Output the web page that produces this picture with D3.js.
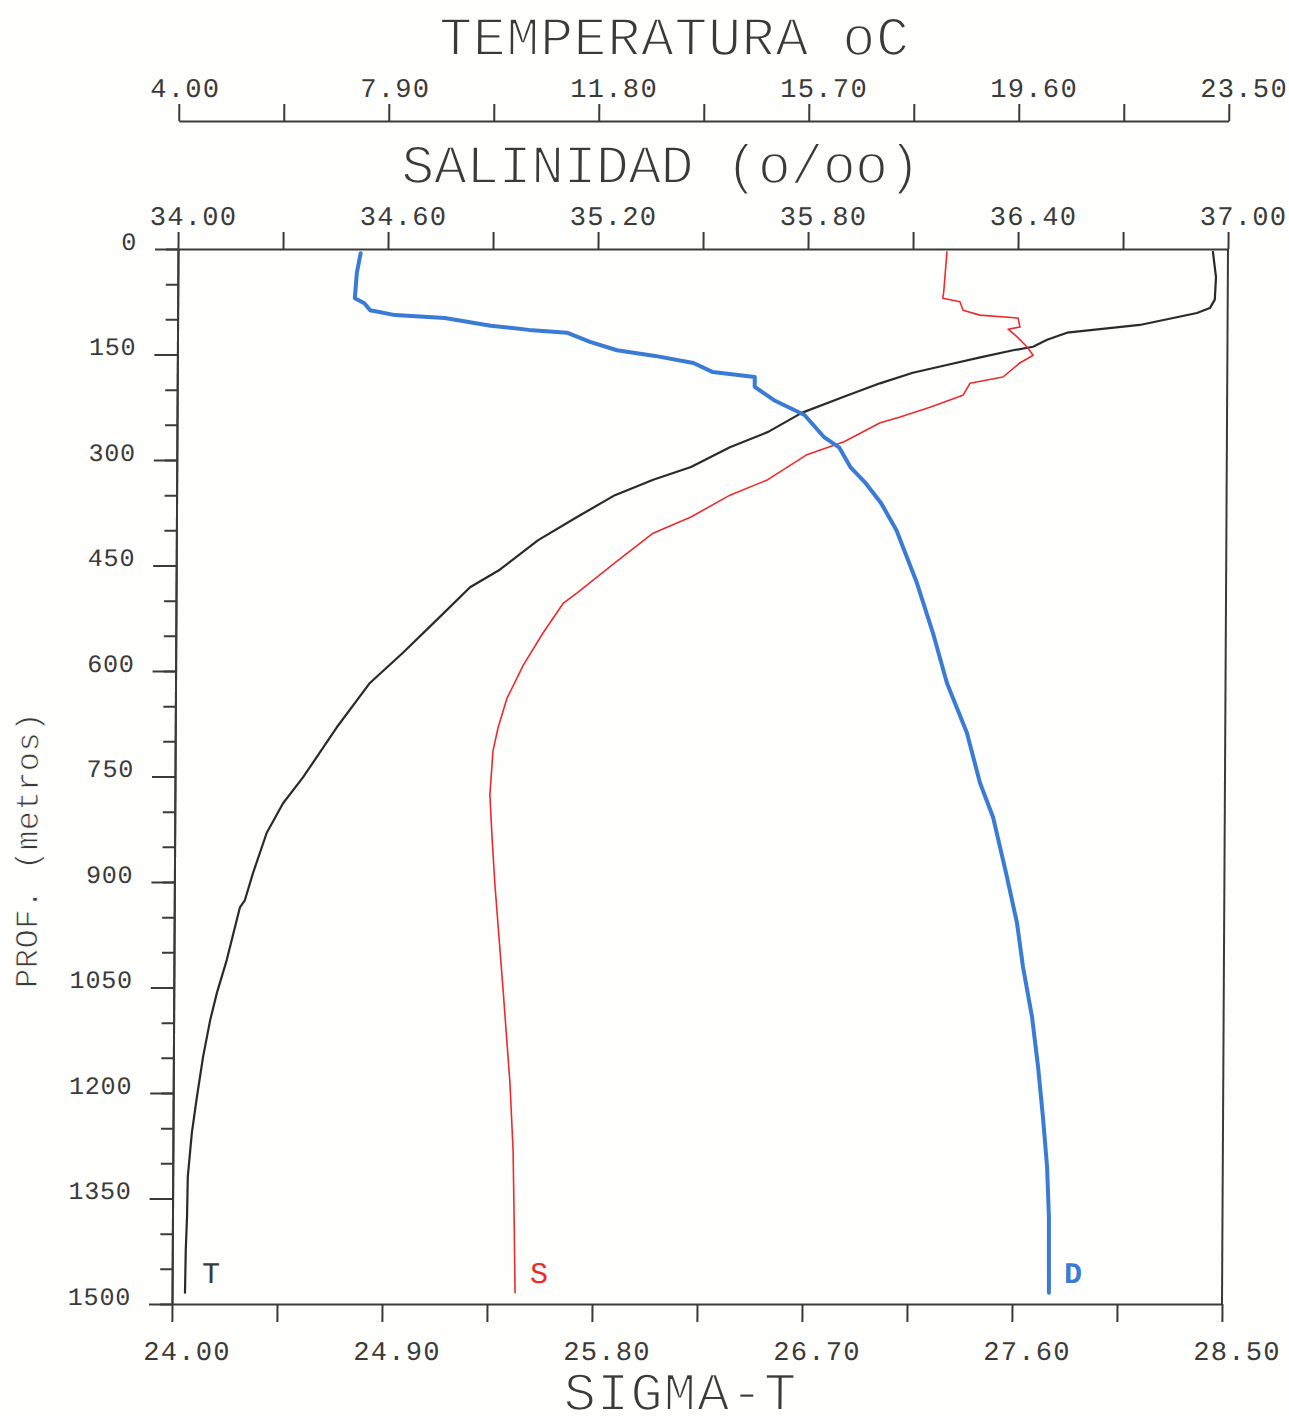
<!DOCTYPE html>
<html lang="es">
  <head>
    <meta charset="UTF-8" />
    <script src="https://d3js.org/d3.v7.min.js"></script>
    <title>Perfil T S Sigma-T</title>
    <style>
      body { margin: 0; background: #fefefc; }
    </style>
  </head>
  <body>
    <svg width="1289" height="1416"></svg>
    <script>
      var depthT = [4, 40, 72, 84, 91, 108, 114, 119, 129, 139, 144, 154, 165, 176, 191, 210, 233, 260, 282, 310,
        328, 350, 381, 414, 456, 481, 527, 574, 617, 680, 751, 788, 830, 887, 926, 936, 1011, 1058, 1096, 1149,
        1206, 1257, 1319, 1376, 1423, 1484];
      var tempT = [23.22, 23.28, 23.26, 23.17, 22.93, 21.87, 21.13, 20.52, 20.15, 19.89, 19.52, 18.91, 18.29, 17.66, 17.05, 16.38, 15.60, 14.98, 14.27, 13.55,
        12.85, 12.14, 11.44, 10.72, 10.01, 9.46, 8.85, 8.22, 7.61, 7.00, 6.38, 6.01, 5.71, 5.46, 5.31, 5.22, 4.98, 4.80, 4.68, 4.55,
        4.44, 4.35, 4.28, 4.27, 4.25, 4.24];

      var depthS = [4, 58, 70, 75, 87, 94, 98, 111, 114, 125, 139, 151, 162, 182, 191, 208, 225, 239, 247, 274,
        293, 328, 350, 381, 404, 446, 489, 504, 546, 592, 639, 681, 714, 776, 838, 905, 1054, 1186, 1281, 1376, 1484];
      var salS = [36.197, 36.189, 36.186, 36.235, 36.244, 36.292, 36.401, 36.407, 36.373, 36.399, 36.427, 36.445, 36.407, 36.359, 36.265, 36.245, 36.151, 36.066, 36.009, 35.906,
        35.798, 35.689, 35.581, 35.470, 35.362, 35.254, 35.146, 35.106, 35.049, 34.993, 34.947, 34.922, 34.908, 34.900, 34.907, 34.916, 34.941, 34.962, 34.972, 34.976, 34.980];

      var depthD = [6, 34, 70, 77, 87, 94, 98, 109, 115, 119, 132, 144, 152, 162, 175, 182, 196, 215, 236, 267,
        282, 310, 333, 361, 400, 475, 546, 617, 688, 759, 808, 869, 893, 958, 1021, 1092, 1163, 1234, 1305, 1376, 1484];
      var sigD = [24.783, 24.767, 24.759, 24.800, 24.825, 24.932, 25.145, 25.342, 25.506, 25.669, 25.768, 25.884, 26.047, 26.212, 26.295, 26.475, 26.475, 26.558, 26.689, 26.772,
        26.838, 26.887, 26.953, 27.019, 27.086, 27.175, 27.245, 27.306, 27.393, 27.450, 27.507, 27.551, 27.568, 27.612, 27.639, 27.679, 27.706, 27.728, 27.747, 27.756, 27.758];

      // marcas de los ejes
      var tempTicks = [4.0, 5.95, 7.9, 9.85, 11.8, 13.75, 15.7, 17.65, 19.6, 21.55, 23.5];
      var salTicks = [34.0, 34.3, 34.6, 34.9, 35.2, 35.5, 35.8, 36.1, 36.4, 36.7, 37.0];
      var sigTicks = [24.0, 24.45, 24.9, 25.35, 25.8, 26.25, 26.7, 27.15, 27.6, 28.05, 28.5];
      var depthLabels = [0, 150, 300, 450, 600, 750, 900, 1050, 1200, 1350, 1500];

      var ink = "#3a3a3a",
        paper = "#fefefc",
        red = "#ee2a2e",
        blue = "#3a7bd5",
        font = "Liberation Mono";

      var svg = d3.select("svg"),
        plotL = 178,
        plotR = 1228,
        plotT = 249,
        plotB = 1304;

      // el original esta ligeramente inclinado
      var g = svg
        .append("g")
        .attr("transform", "translate(0," + plotT + ") skewX(-0.326) translate(0," + -plotT + ")");

      var sigX = d3.scaleLinear().domain([24, 28.5]).range([plotL, plotR]);
      var salX = d3.scaleLinear().domain([34, 37]).range([plotL, plotR]);
      var tempX = d3.scaleLinear().domain([4, 23.5]).range([plotL, plotR]);
      var y = d3.scaleLinear().domain([0, 1500]).range([plotT, plotB]);

      var fmt = d3.format(".2f");
      function everyOther(d, i) {
        return i % 2 ? "" : fmt(d);
      }

      function styleAxis(sel) {
        sel.attr("font-family", font).attr("font-size", 27).attr("fill", ink);
        sel.select(".domain").attr("stroke", ink).attr("stroke-width", 2);
        sel.selectAll(".tick line").attr("stroke", ink).attr("stroke-width", 2);
        sel.selectAll(".tick text").attr("fill", ink).attr("letter-spacing", 1.3);
      }

      // eje de temperatura
      var ta = g
        .append("g")
        .attr("transform", "translate(0,121)")
        .call(d3.axisTop(tempX).tickValues(tempTicks).tickSize(17).tickSizeOuter(0).tickPadding(7).tickFormat(everyOther));
      styleAxis(ta);
      ta.selectAll(".tick text").attr("text-anchor", "start").attr("x", -29);

      // eje de salinidad
      var sa = g
        .append("g")
        .attr("transform", "translate(0," + plotT + ")")
        .call(d3.axisTop(salX).tickValues(salTicks).tickSize(17).tickSizeOuter(0).tickPadding(7).tickFormat(everyOther));
      styleAxis(sa);
      sa.selectAll(".tick text").attr("text-anchor", "start").attr("x", -29);

      // eje sigma-t
      var ba = g
        .append("g")
        .attr("transform", "translate(0," + plotB + ")")
        .call(d3.axisBottom(sigX).tickValues(sigTicks).tickSize(18).tickSizeOuter(0).tickFormat(everyOther));
      styleAxis(ba);
      ba.selectAll(".tick text").attr("text-anchor", "start").attr("x", -29).attr("dy", "0").attr("y", 56);

      // eje de profundidad
      var la = g
        .append("g")
        .attr("transform", "translate(" + plotL + ",0)")
        .call(d3.axisLeft(y).tickValues(d3.range(0, 1501, 50)).tickSize(12).tickSizeOuter(0).tickFormat(""));
      styleAxis(la);
      var lb = g
        .append("g")
        .attr("transform", "translate(" + plotL + ",0)")
        .call(d3.axisLeft(y).tickValues(depthLabels).tickSize(23).tickSizeOuter(0).tickPadding(18).tickFormat(d3.format("d")));
      styleAxis(lb);
      lb.selectAll(".tick text").attr("dy", "0").attr("font-size", 25).attr("letter-spacing", 0.8);

      g.append("line")
        .attr("x1", plotR)
        .attr("x2", plotR)
        .attr("y1", plotT)
        .attr("y2", plotB)
        .attr("stroke", ink)
        .attr("stroke-width", 2);

      // perfiles
      function profile(depths, vals, xs, color, w) {
        var pts = depths.map(function (d, i) {
          return [xs(vals[i]), y(d)];
        });
        g.append("path")
          .attr("d", d3.line()(pts))
          .attr("fill", "none")
          .attr("stroke", color)
          .attr("stroke-width", w)
          .attr("stroke-linejoin", "round")
          .attr("stroke-linecap", "round");
      }
      profile(depthT, tempT, tempX, "#2a2a2a", 2.2);
      profile(depthS, salS, salX, red, 1.6);
      profile(depthD, sigD, sigX, blue, 4);

      // titulos (trazo blanco encima para afinar las letras, como el plotter)
      function label(txt, x, yy, size, ls, color, weight, thin) {
        return g
          .append("text")
          .attr("x", x)
          .attr("y", yy)
          .attr("font-family", font)
          .attr("font-size", size)
          .attr("letter-spacing", ls)
          .attr("fill", color || ink)
          .attr("font-weight", weight || "normal")
          .attr("stroke", thin ? paper : "none")
          .attr("stroke-width", thin || 0)
          .text(txt);
      }
      label("TEMPERATURA oC", 438, 55, 55, 0.6, ink, null, 1.8);
      label("SALINIDAD (o/oo)", 401, 183, 55, -0.6, ink, null, 1.8);
      label("SIGMA-T", 570, 1410, 54, 1, ink, null, 1.8);

      g.append("text")
        .attr("transform", "translate(41,850) rotate(-90)")
        .attr("text-anchor", "middle")
        .attr("font-family", font)
        .attr("font-size", 32)
        .attr("letter-spacing", 0.5)
        .attr("fill", ink)
        .attr("stroke", paper)
        .attr("stroke-width", 0.8)
        .text("PROF. (metros)");

      label("T", 208, 1283, 30, 0);
      label("S", 536, 1283, 30, 0, red);
      label("D", 1070, 1283, 30, 0, blue, "bold");
    </script>
  </body>
</html>
